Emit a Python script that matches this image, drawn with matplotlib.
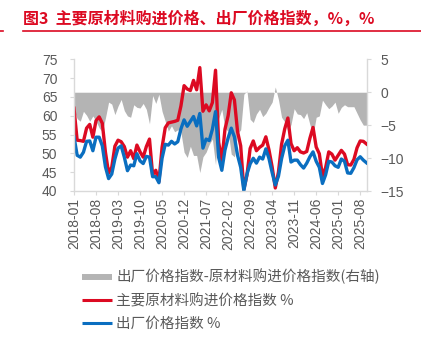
import matplotlib
matplotlib.use('Agg')
import matplotlib.pyplot as plt
from matplotlib.lines import Line2D
from matplotlib.font_manager import FontProperties
import numpy as np
import pandas as pd

# ---------------- data ----------------
months = pd.date_range('2018-01-01', '2025-10-01', freq='MS').strftime('%Y-%m').tolist()

# 主要原材料购进价格指数 %
purchase = [
    62.0, 53.5, 53.4, 53.2, 56.7, 57.7, 54.3, 58.7, 59.7, 58.0, 50.3, 44.8,
    46.3, 51.9, 53.5, 53.1, 51.8, 49.0, 50.7, 48.6, 52.2, 50.4, 49.0, 51.8,
    53.8, 44.3, 45.5, 42.5, 51.6, 56.8, 58.1, 58.3, 58.5, 58.8, 62.6, 68.0,
    67.1, 66.7, 69.4, 66.9, 72.8, 61.2, 62.9, 61.3, 63.5, 72.1, 52.9, 48.1,
    56.4, 60.0, 66.1, 64.2, 55.8, 52.0, 40.4, 44.3, 51.3, 53.3, 50.7, 51.6,
    52.2, 54.4, 50.9, 46.4, 40.8, 45.0, 52.4, 56.5, 59.4, 52.6, 50.7, 51.5,
    50.4, 50.1, 50.5, 54.0, 56.9, 51.7, 49.9, 44.0, 46.2, 50.4, 49.8, 48.2,
    49.5, 50.8, 49.8, 47.0, 46.9, 48.4, 51.5, 53.3, 53.2, 52.5,
]

# 出厂价格指数 %
output = [
    54.4, 49.5, 49.0, 50.3, 53.2, 53.3, 50.7, 54.3, 54.3, 52.0, 46.4, 43.3,
    44.5, 48.5, 51.4, 52.0, 49.0, 45.4, 46.9, 46.7, 49.9, 48.0, 47.3, 49.2,
    49.0, 43.8, 43.8, 42.2, 48.7, 52.4, 52.2, 53.2, 52.5, 53.1, 56.5, 58.9,
    57.2, 58.5, 59.8, 57.3, 60.6, 51.4, 53.8, 53.4, 56.4, 61.1, 48.9, 45.5,
    50.9, 54.1, 56.7, 54.4, 49.5, 46.3, 40.1, 44.5, 47.2, 48.7, 47.4, 49.0,
    48.5, 51.2, 48.6, 44.9, 41.6, 43.9, 48.6, 52.0, 53.5, 47.7, 48.2, 48.2,
    47.0, 46.1, 47.4, 49.1, 50.4, 47.9, 46.3, 42.0, 44.3, 47.9, 47.7, 46.7,
    46.3, 48.5, 47.9, 44.8, 44.7, 46.2, 48.3, 49.1, 48.2, 47.5,
]

# 出厂价格指数-原材料购进价格指数(右轴)
spread = [
    -2.7, -4.0, -4.4, -2.9, -3.5, -4.4, -3.6, -4.4, -5.4, -6.0, -3.9, -1.5,
    -1.8, -3.4, -2.1, -1.1, -2.8, -3.6, -3.8, -1.9, -2.3, -2.4, -1.7, -2.6,
    -4.8, -0.5, -1.7, -0.3, -2.9, -4.4, -5.9, -5.1, -6.0, -5.7, -6.1, -9.1,
    -9.9, -8.2, -9.6, -9.6, -12.2, -9.8, -9.1, -7.9, -7.1, -11.0, -4.0, -2.6,
    -5.5, -5.9, -9.4, -9.8, -6.3, -5.7, -0.3, 0.2, -4.1, -4.6, -3.3, -2.6,
    -3.7, -3.2, -2.3, -1.5, 0.8, -1.1, -3.8, -4.5, -5.9, -4.9, -2.5, -3.3,
    -3.4, -4.0, -3.1, -4.9, -6.5, -3.8, -3.6, -1.2, -1.9, -2.5, -2.1, -1.5,
    -3.2, -2.3, -1.9, -2.2, -2.2, -2.2, -3.2, -4.2, -5.0, -5.0,
]

tick_labels = ['2018-01', '2018-08', '2019-03', '2019-10', '2020-05', '2020-12',
               '2021-07', '2022-02', '2022-09', '2023-04', '2023-11', '2024-06',
               '2025-01', '2025-08']
left_ticks = [40, 45, 50, 55, 60, 65, 70, 75]
right_ticks = [-15, -10, -5, 0, 5]

title = '图3  主要原材料购进价格、出厂价格指数，%，%'
labels = ['出厂价格指数-原材料购进价格指数(右轴)', '主要原材料购进价格指数 %', '出厂价格指数 %']

# ---------------- style ----------------
RED = '#DC0A22'
BLUE = '#0A6EC0'
GRAY = '#B4B4B4'
SPINE = '#D9D9D9'
TXT = '#595959'
CJK = ['Noto Sans CJK SC', 'DejaVu Sans']
plt.rcParams['font.family'] = ['Liberation Sans', 'Noto Sans CJK SC', 'DejaVu Sans']

W, H = 421, 350
fig = plt.figure(figsize=(W / 100, H / 100), dpi=100)
L, R, T, B = 74, 366.5, 59.3, 191
ax = fig.add_axes([L / W, 1 - B / H, (R - L) / W, (B - T) / H])
ax2 = ax.twinx()

x = np.arange(len(months))
ax2.fill_between(x, 0, spread, color=GRAY, linewidth=0)
ax.plot(x, purchase, color=RED, lw=2.4, solid_joinstyle='round')
ax.plot(x, output, color=BLUE, lw=2.4, solid_joinstyle='round')
ax.set_zorder(ax2.get_zorder() + 1)
ax.patch.set_visible(False)

ax.set_xlim(0, len(months) - 1)
ax.set_ylim(40, 75)
ax2.set_ylim(-15, 5)
ax.set_yticks(left_ticks)
ax2.set_yticks(right_ticks)
ax.set_xticks([months.index(t) for t in tick_labels])
ax.set_xticklabels(tick_labels, rotation=90)

for a in (ax, ax2):
    for s in a.spines.values():
        s.set_color(SPINE)
        s.set_linewidth(1.0)
    a.spines['top'].set_visible(False)
ax.spines['right'].set_visible(False)
ax2.spines['left'].set_visible(False)
ax2.spines['bottom'].set_visible(False)

ax.tick_params(axis='y', length=3, width=0.8, color=SPINE, labelcolor=TXT, labelsize=10, pad=9)
ax2.tick_params(axis='y', length=3, width=0.8, color=SPINE, labelcolor=TXT, labelsize=10, pad=7)
ax.tick_params(axis='x', length=3, width=0.8, color=SPINE, labelcolor=TXT, labelsize=10, pad=2)

# title and rule
fig.text(22.7 / W, 1 - 18.3 / H, title, color=RED, fontsize=11.5, fontweight='bold',
         family=CJK, ha='left', va='center')
fig.add_artist(Line2D([22.7 / W, 1.0], [1 - 30.5 / H] * 2, color=RED, lw=1.2,
                      transform=fig.transFigure))
fig.add_artist(Line2D([0, 3 / W], [1 - 30.5 / H] * 2, color=RED, lw=1.2,
                      transform=fig.transFigure))

# legend
handles = [Line2D([], [], color=GRAY, lw=4.3, solid_capstyle='butt'),
           Line2D([], [], color=RED, lw=2.2, solid_capstyle='butt'),
           Line2D([], [], color=BLUE, lw=2.2, solid_capstyle='butt')]
fig.legend(handles, labels, loc='upper left', bbox_to_anchor=(82 / W, 1 - 269 / H),
           frameon=False, prop=FontProperties(family=CJK, size=10.5), labelcolor=TXT,
           handlelength=2.05, handletextpad=0.3, labelspacing=0.62, borderpad=0,
           borderaxespad=0)

fig.savefig('out.png', dpi=100)
